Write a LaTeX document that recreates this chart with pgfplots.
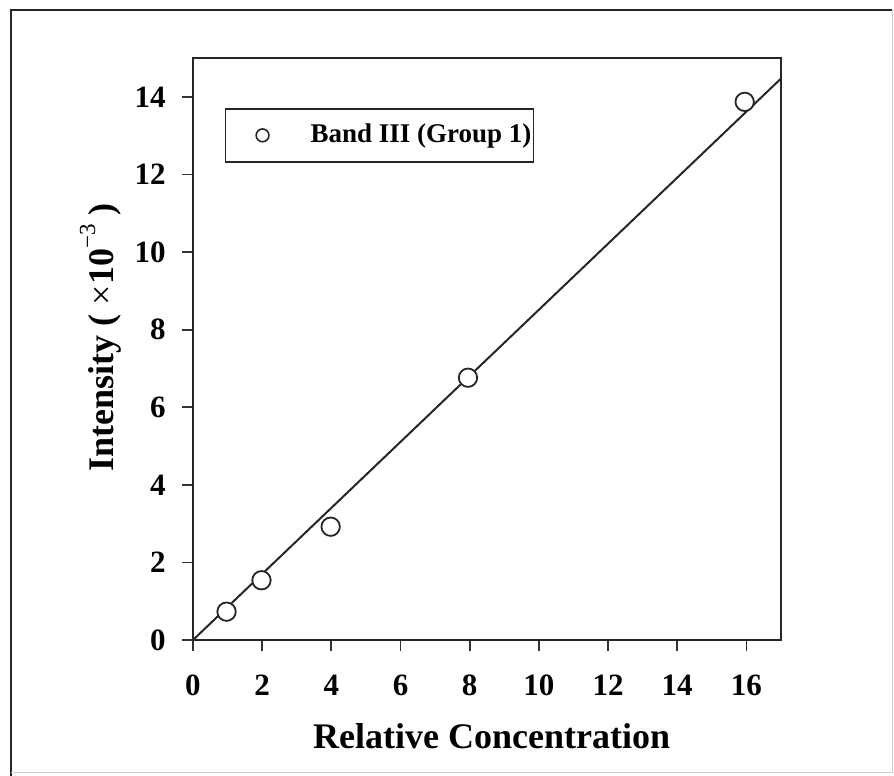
\documentclass[border=0pt]{standalone}
\usepackage{fontspec}
\setmainfont{Liberation Serif}
\usepackage{pgfplots}
\pgfplotsset{compat=1.18}
\begin{document}
\begin{tikzpicture}
\useasboundingbox (-96.5pt,-68pt) rectangle (350.5pt,320pt);
\begin{axis}[
  at={(0pt,0pt)}, anchor=south west,
  scale only axis, width=294pt, height=291pt,
  xmin=0, xmax=17, ymin=0, ymax=15,
  xtick={0,2,...,16}, ytick={0,2,...,14},
  minor tick num=0,
  tick align=outside, xtick pos=bottom, ytick pos=left,
  major tick length=5.5pt,
  axis line style={line width=1pt, black!85},
  every tick/.style={black!80, line width=0.9pt},
  /pgf/number format/assume math mode=true,
  ticklabel style={font=\fontsize{15.5}{18}\selectfont\bfseries},
  xticklabel style={anchor=base, yshift=-22pt, inner sep=0pt},
  yticklabel style={anchor=east, xshift=-8pt, inner sep=0pt},
  every axis x label/.style={at={(axis description cs:0.508,0)}, anchor=base, yshift=-54pt,
    font=\fontsize{18}{21}\selectfont\bfseries},
  every axis y label/.style={at={(axis description cs:-0.136,0.52)}, rotate=90, anchor=base,
    font=\fontsize{18}{21}\selectfont\bfseries},
  xlabel={Relative Concentration},
  ylabel={Intensity ( {\mdseries ×}10\raisebox{0.5em}{\fontsize{11.5}{13}\selectfont\mdseries −3} )},
  legend style={at={(axis description cs:0.054,0.914)}, anchor=north west,
    draw=black!85, line width=0.8pt, inner xsep=1pt, inner ysep=6.75pt,
    font=\fontsize{13.5}{16}\selectfont\bfseries,
    nodes={inner sep=0pt, text height=10pt, text depth=3pt}},
  clip=false,
]
\addplot[black!85, line width=1pt, forget plot] coordinates {(0,0) (17,14.47)};
\addplot[only marks, mark=*, mark size=4.6pt, mark options={fill=white, draw=black!85, line width=0.9pt},
  legend image code/.code={\path[draw=none, fill=none] (0pt,0pt) -- (41.5pt,0pt);
    \path[draw=black!85, line width=0.8pt, fill=white] (17.5pt,0pt) circle[radius=3.2pt];}]
  coordinates {(0.97,0.73) (1.98,1.54) (3.98,2.92) (7.95,6.76) (15.95,13.87)};
\addlegendentry{Band III (Group 1)}
\end{axis}
\draw[line width=1pt, black!85] (-91pt,-68pt) -- (-91pt,315pt) -- (349.5pt,315pt);
\draw[line width=0.5pt, black!20] (349.5pt,315pt) -- (349.5pt,-66pt) -- (-91pt,-66pt);
\end{tikzpicture}
\end{document}
